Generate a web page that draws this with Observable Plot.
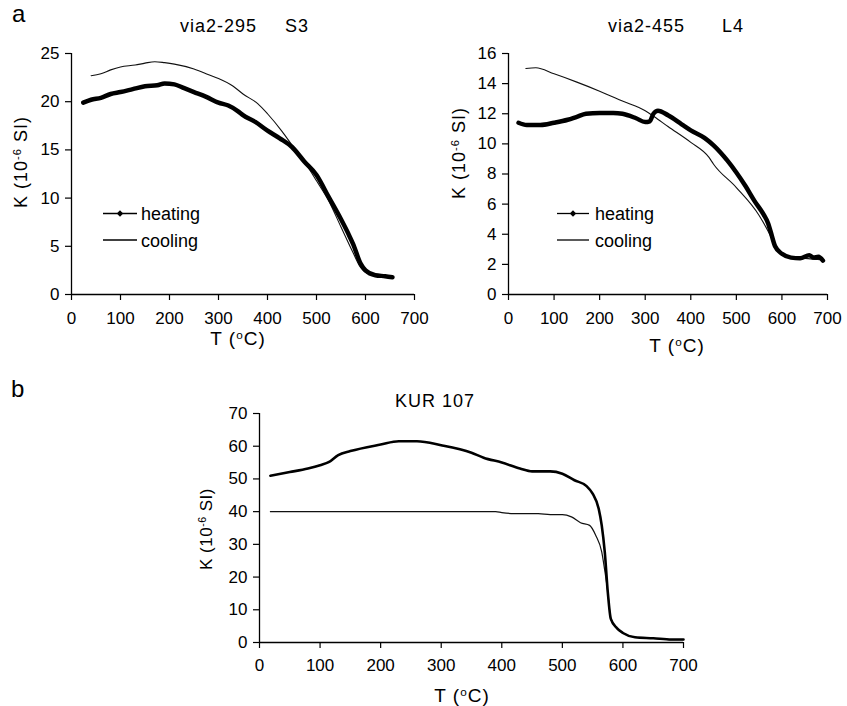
<!DOCTYPE html>
<html><head><meta charset="utf-8">
<script src="https://cdn.jsdelivr.net/npm/d3@7"></script>
<script src="https://cdn.jsdelivr.net/npm/@observablehq/plot@0.6"></script>
<style>
body{margin:0;background:#fff;}
#root{position:relative;width:847px;height:706px;overflow:hidden;font-family:"Liberation Sans",Arial,sans-serif;background:#fff;}
#root .panel{position:absolute;}
#overlay{position:absolute;left:0;top:0;pointer-events:none;}
</style></head><body><div id="root"></div>
<script>
// ---- tick values ----
const xTicks = [0, 100, 200, 300, 400, 500, 600, 700];
const yTicksS3 = [0, 5, 10, 15, 20, 25];
const yTicksL4 = [0, 2, 4, 6, 8, 10, 12, 14, 16];
const yTicksKUR = [0, 10, 20, 30, 40, 50, 60, 70];

// ---- via2-295 S3 ----
const s3HeatT = [24, 40, 60, 80, 100, 125, 150, 175, 190, 210, 230, 250, 275, 300, 320, 340, 350, 375, 400, 425, 450, 475, 500, 525, 550, 565, 575, 590, 600, 620, 640, 655];
const s3HeatK = [19.9, 20.2, 20.4, 20.8, 21.0, 21.3, 21.6, 21.7, 21.9, 21.8, 21.4, 21.0, 20.5, 19.9, 19.6, 19.0, 18.6, 17.9, 17.0, 16.2, 15.3, 13.8, 12.4, 10.1, 7.8, 6.3, 5.2, 3.2, 2.5, 2.0, 1.9, 1.8];
const s3CoolT = [40, 60, 80, 100, 130, 150, 170, 190, 210, 250, 280, 300, 330, 350, 380, 400, 430, 450, 475, 500, 525, 550, 575, 590, 600, 620, 640, 655];
const s3CoolK = [22.7, 22.9, 23.3, 23.6, 23.8, 24.0, 24.15, 24.05, 23.9, 23.4, 22.8, 22.4, 21.6, 20.8, 19.8, 18.75, 16.9, 15.5, 13.8, 11.8, 9.7, 7.0, 4.3, 2.8, 2.3, 2.0, 1.9, 1.8];

// ---- via2-455 L4 ----
const l4HeatT = [22, 40, 70, 100, 130, 150, 170, 200, 230, 250, 280, 300, 310, 318, 328, 350, 380, 400, 430, 450, 480, 500, 520, 540, 560, 570, 575, 585, 600, 620, 640, 660, 670, 680, 690];
const l4HeatK = [11.4, 11.25, 11.25, 11.4, 11.6, 11.8, 12.0, 12.05, 12.05, 12.0, 11.7, 11.45, 11.5, 12.0, 12.2, 11.9, 11.3, 10.9, 10.4, 9.9, 8.9, 8.1, 7.2, 6.2, 5.3, 4.7, 4.2, 3.2, 2.7, 2.45, 2.4, 2.6, 2.45, 2.5, 2.25];
const l4CoolT = [38, 60, 100, 150, 200, 250, 300, 320, 350, 400, 440, 450, 500, 550, 580, 590, 600, 620, 650, 690];
const l4CoolK = [15.0, 15.05, 14.65, 14.1, 13.5, 12.85, 12.2, 11.8, 11.15, 10.1, 9.1, 8.65, 7.1, 5.25, 3.6, 3.0, 2.7, 2.5, 2.4, 2.3];

// ---- KUR 107 ----
const kurHeatT = [18, 50, 80, 100, 115, 130, 150, 200, 230, 260, 300, 350, 370, 400, 430, 450, 480, 500, 520, 540, 550, 560, 565, 570, 575, 580, 590, 600, 620, 650, 680, 700];
const kurHeatK = [51.0, 52.1, 53.2, 54.2, 55.2, 57.3, 58.5, 60.5, 61.5, 61.5, 60.3, 58.0, 56.5, 55.0, 53.2, 52.3, 52.3, 51.6, 49.6, 47.8, 45.5, 40.9, 35.8, 27.7, 15.4, 7.2, 4.4, 2.9, 1.6, 1.3, 0.9, 0.9];
const kurCoolT = [18, 100, 200, 300, 390, 400, 420, 460, 480, 500, 515, 530, 545, 555, 565, 570, 575, 580, 590, 600, 620, 650, 680, 700];
const kurCoolK = [40, 40, 40, 40, 40, 39.7, 39.4, 39.4, 39.1, 39.1, 38.4, 36.6, 35.8, 32.8, 27.7, 22.0, 15.4, 7.2, 4.4, 2.9, 1.6, 1.3, 0.9, 0.9];

const zip = (T, K) => T.map((t, i) => ({T: t, K: K[i]}));
const FONT = '"Liberation Sans", Arial, Helvetica, sans-serif';

function panel(o) {
  const svg = Plot.plot({
    width: o.width, height: o.height,
    marginLeft: o.ml, marginRight: o.mr, marginTop: o.mt, marginBottom: o.mb,
    style: {fontFamily: FONT, fontSize: "17px", color: "#000", background: "transparent", overflow: "visible"},
    x: {domain: [0, 700]},
    y: {domain: o.yDomain},
    marks: [
      Plot.axisX({ticks: xTicks, tickSize: 6, tickPadding: o.xPad, label: null, tickFormat: d => String(d), strokeWidth: 1.2}),
      Plot.axisY({ticks: o.yTicks, tickSize: 6, tickPadding: 6, label: null, tickFormat: d => String(d), strokeWidth: 1.2}),
      Plot.ruleX([0], {stroke: "#000", strokeWidth: 1.3}),
      Plot.ruleY([0], {stroke: "#000", strokeWidth: 1.3}),
      Plot.line(o.cool, {x: "T", y: "K", stroke: "#111", strokeWidth: o.coolW, curve: "monotone-x", strokeLinejoin: "round"}),
      Plot.line(o.heat, {x: "T", y: "K", stroke: "#000", strokeWidth: o.heatW, curve: "monotone-x", strokeLinejoin: "round", strokeLinecap: "round"})
    ]
  });
  svg.classList.add("panel");
  svg.style.left = o.left + "px";
  svg.style.top = o.top + "px";
  return svg;
}

const root = document.getElementById("root");
root.appendChild(panel({left: 0, top: 0, width: 430, height: 350, ml: 71, mr: 16, mt: 53, mb: 56, xPad: 11,
  yDomain: [0, 25], yTicks: yTicksS3, heat: zip(s3HeatT, s3HeatK), cool: zip(s3CoolT, s3CoolK), heatW: 4.5, coolW: 1.1}));
root.appendChild(panel({left: 430, top: 0, width: 417, height: 350, ml: 78, mr: 20, mt: 53, mb: 56, xPad: 11,
  yDomain: [0, 16], yTicks: yTicksL4, heat: zip(l4HeatT, l4HeatK), cool: zip(l4CoolT, l4CoolK), heatW: 4.5, coolW: 1.1}));
root.appendChild(panel({left: 180, top: 360, width: 520, height: 346, ml: 79, mr: 17, mt: 53, mb: 64, xPad: 10,
  yDomain: [0, 70], yTicks: yTicksKUR, heat: zip(kurHeatT, kurHeatK), cool: zip(kurCoolT, kurCoolK), heatW: 2.6, coolW: 1.2}));

// ---- text overlay: panel letters, titles, axis labels, legends ----
const NS = "http://www.w3.org/2000/svg";
const ov = document.createElementNS(NS, "svg");
ov.setAttribute("id", "overlay");
ov.setAttribute("width", 847); ov.setAttribute("height", 706);
ov.setAttribute("font-family", FONT);
root.appendChild(ov);
function txt(x, y, parts, size, opts = {}) {
  const t = document.createElementNS(NS, "text");
  t.setAttribute("x", x); t.setAttribute("y", y);
  t.setAttribute("font-size", size);
  t.setAttribute("fill", "#000");
  if (opts.anchor) t.setAttribute("text-anchor", opts.anchor);
  if (opts.ls) t.setAttribute("letter-spacing", opts.ls);
  if (opts.transform) t.setAttribute("transform", opts.transform);
  for (const p of parts) {
    const s = document.createElementNS(NS, "tspan");
    if (typeof p === "string") { s.textContent = p; }
    else { s.textContent = p.sup; s.setAttribute("font-size", size * 0.62); s.setAttribute("baseline-shift", "super"); }
    t.appendChild(s);
  }
  ov.appendChild(t);
}
txt(12, 22, ["a"], 24);
txt(11, 397, ["b"], 24);
txt(180, 32, ["via2-295"], 18, {ls: 1});
txt(285, 32, ["S3"], 18, {ls: 1});
txt(608, 32, ["via2-455"], 18, {ls: 1});
txt(722, 32, ["L4"], 18, {ls: 1});
txt(435, 407, ["KUR 107"], 18, {anchor: "middle", ls: 1});
const yLab = ["K (10", {sup: "-6"}, " SI)"];
const xLab = ["T (", {sup: "o"}, "C)"];
txt(0, 0, yLab, 18, {anchor: "middle", ls: 1, transform: "translate(27,162) rotate(-90)"});
txt(0, 0, yLab, 18, {anchor: "middle", ls: 1, transform: "translate(465,153) rotate(-90)"});
txt(0, 0, yLab, 17, {anchor: "middle", ls: 0.5, transform: "translate(212,529) rotate(-90)"});
txt(238, 345, xLab, 19, {anchor: "middle", ls: 1});
txt(677, 352, xLab, 19, {anchor: "middle", ls: 1});
txt(462, 702, xLab, 19, {anchor: "middle", ls: 1});

function legend(x0, x1, tx) {
  const mk = (tag, attrs) => { const e = document.createElementNS(NS, tag); for (const k in attrs) e.setAttribute(k, attrs[k]); ov.appendChild(e); };
  mk("line", {x1: x0, x2: x1, y1: 213.5, y2: 213.5, stroke: "#000", "stroke-width": 1.3});
  const cx = (x0 + x1) / 2, cy = 213.5, r = 3.2;
  mk("polygon", {points: `${cx},${cy - r} ${cx + r},${cy} ${cx},${cy + r} ${cx - r},${cy}`, fill: "#000"});
  mk("line", {x1: x0, x2: x1, y1: 240, y2: 240, stroke: "#000", "stroke-width": 1.3});
  txt(tx, 220, ["heating"], 18);
  txt(tx, 246.5, ["cooling"], 18);
}
legend(103, 137, 141);
legend(557, 589, 595);
</script></body></html>
